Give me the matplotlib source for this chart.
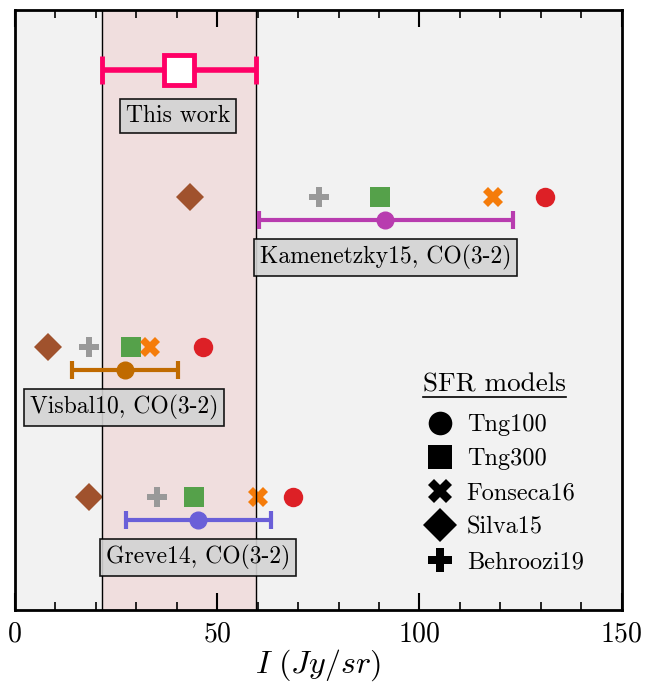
import matplotlib
matplotlib.use("Agg")
import matplotlib.pyplot as plt
from matplotlib.lines import Line2D

plt.rcParams["font.family"] = "serif"
plt.rcParams["font.serif"] = ["cmr10"]
plt.rcParams["mathtext.fontset"] = "cm"
plt.rcParams["axes.formatter.use_mathtext"] = True

# ---------------- DATA ----------------
models = ["Tng100", "Tng300", "Fonseca16", "Silva15", "Behroozi19"]
model_markers = ["o", "s", "X", "D", "P"]
model_colors = ["#dd2026", "#55a14a", "#f57c0a", "#a0522d", "#999999"]

surveys = ["Kamenetzky15, CO(3-2)", "Visbal10, CO(3-2)", "Greve14, CO(3-2)"]
survey_colors = ["#b83caf", "#c06a00", "#6a5fd8"]
survey_y = [2.6, 1.6, 0.6]
survey_val = [91.4, 27.2, 45.2]
survey_lo = [60.3, 14.1, 27.4]
survey_hi = [123.1, 40.3, 63.3]
label_x = [91.6, 26.9, 45.2]

# model predictions per survey (Tng100, Tng300, Fonseca16, Silva15, Behroozi19)
model_vals = [
    [131.0, 90.2, 118.1, 43.2, 75.1],
    [46.5, 28.7, 33.4, 8.2, 18.3],
    [68.7, 44.2, 60.0, 18.3, 35.1],
]

this_val = 40.5
this_lo = 21.5
this_hi = 59.5
this_y = 3.6

# ---------------- PLOT ----------------
fig = plt.figure(figsize=(6.47, 6.94), dpi=100)
ax = fig.add_axes([0.023, 0.121, 0.938, 0.865])
ax.set_facecolor("#f2f2f2")

ax.axvspan(this_lo, this_hi, color="#f0dede", zorder=0)
ax.axvline(this_lo, color="black", lw=1.0, zorder=5)
ax.axvline(this_hi, color="black", lw=1.0, zorder=5)

box = dict(boxstyle="square,pad=0.25", facecolor="#d3d3d3", edgecolor="black", lw=1.2, alpha=0.9)

ax.errorbar([this_val], [this_y],
            xerr=[[this_val - this_lo], [this_hi - this_val]],
            fmt="s", color="#ff0066", mfc="white", mec="#ff0066", mew=3.5,
            ms=21, lw=4, capsize=10, capthick=4, zorder=6)
ax.text(40.3, 3.29, "This work", ha="center", va="center",
        fontsize=17, bbox=box, zorder=7)

for i in range(len(surveys)):
    y = survey_y[i]
    for j in range(len(models)):
        ax.plot(model_vals[i][j], y + 0.15, marker=model_markers[j],
                color=model_colors[j], ms=14, mew=0, ls="none", zorder=4)
    v = survey_val[i]
    ax.errorbar([v], [y], xerr=[[v - survey_lo[i]], [survey_hi[i] - v]],
                fmt="o", color=survey_colors[i], ms=12, lw=3, capsize=6.5,
                capthick=3, zorder=6)
    ax.text(label_x[i], y - 0.25, surveys[i], ha="center", va="center",
            fontsize=17, bbox=box, zorder=7)

handles = [Line2D([], [], marker=m, color="black", ls="none", ms=17, mew=0)
           for m in model_markers]
leg = ax.legend(handles, models, loc="lower right", bbox_to_anchor=(0.965, 0.033),
                frameon=False, fontsize=17.5, handletextpad=0.5, labelspacing=0.5,
                handlelength=1.2, borderpad=0.2)

# legend heading, underlined
title = ax.text(118.6, 1.5, "SFR models", ha="center", va="center", fontsize=19.5)

ax.set_xlim(0, 150)
ax.set_ylim(0, 4)
ax.set_yticks([])
ax.set_xticks([0, 50, 100, 150])
ax.set_xticks(range(0, 151, 10), minor=True)
ax.tick_params(axis="x", which="major", direction="in", top=True, length=12, width=1.5,
               labelsize=20, pad=8)
ax.tick_params(axis="x", which="minor", direction="in", top=True, length=6, width=1.2)
ax.set_xlabel(r"$I\ (Jy/sr)$", fontsize=23, labelpad=0)
for s in ax.spines.values():
    s.set_linewidth(2)

fig.canvas.draw()
tb = title.get_window_extent().transformed(fig.transFigure.inverted())
fig.add_artist(Line2D([tb.x0, tb.x1], [tb.y0 - 0.001, tb.y0 - 0.001],
                      color="black", lw=1.2, transform=fig.transFigure))

fig.savefig("out.png", dpi=100)
